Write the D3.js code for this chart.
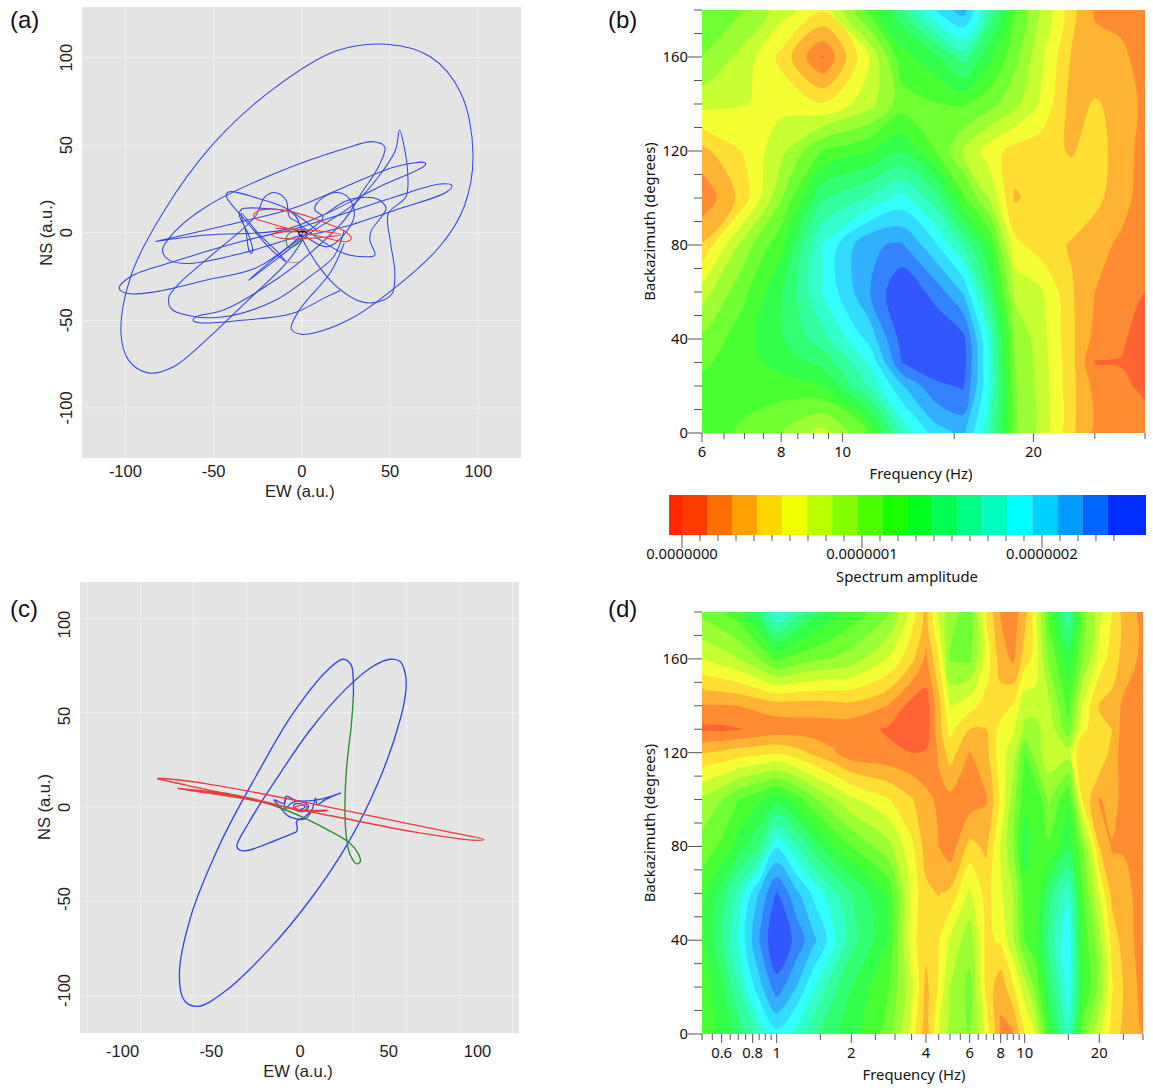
<!DOCTYPE html>
<html>
<head>
<meta charset="utf-8">
<title>Hodographs and backazimuth spectra</title>
<script src="https://cdn.jsdelivr.net/npm/d3@7"></script>
<style>
  html, body { margin: 0; background: #fff; }
  svg { display: block; }
  .hodo text { font-family: "Liberation Sans", Arial, sans-serif; font-size: 16.5px; fill: #222; }
  .spec text { font-family: "Noto Sans", sans-serif; font-size: 14.8px; fill: #111; }
  .tag { font-family: "Liberation Sans", Arial, sans-serif; font-size: 24px; fill: #111; }
</style>
</head>
<body>
<div id="container"></div>
<script>
// panel (a) particle motion, [EW, NS]
const aBlue = [
  [[24,-6],[16,-23],[-1.4,-44],[-6,-55],[-0.4,-58],[8,-57],[26,-50],[43,-39],[78,-8],[92,15],[97,45],[90,80],[72.6,100.6],[48,107.6],[20,104],[-15,83],[-50,51],[-79,11],[-97,-25],[-102.5,-57.5],[-98,-73],[-87,-80],[-73,-76.6],[-54,-61],[-30.5,-38.5],[-9,-17.5],[0.6,-4]],
  [[1,-2],[-10,-10],[-30.5,-27.4],[-15,-15.6],[4.5,-0.4],[30,16.8],[43.4,32],[53,47],[55.4,58.7],[58,49],[60,34],[59,20.6],[49,11],[50,-4],[52.7,-23],[51,-35],[43.4,-39.4],[33.7,-39.4],[20,-31],[8.4,-17.5],[-1.4,-0.4]],
  [[0.6,-1],[-34.4,-11.8],[-63.6,-17.5],[-75.3,-15.6],[-79,-10],[-73,-0.4],[-54,15],[-15,34],[24,48],[40.5,52],[47,49],[43.4,37.7],[33.7,22.5],[24,7.2],[4.5,-11.8],[-15,-27],[-44,-44],[-60,-48],[-61.7,-50],[-58,-51.4],[-34.4,-50],[-5,-46],[14,-36.6],[22,-33]],
  [[24,1.5],[18,-13.7],[4.5,-25],[-15,-38.5],[-44,-48],[-65.6,-47],[-74.3,-43],[-75.3,-36.6],[-69.5,-29],[-50,-11.8],[-26.7,9],[-20.8,20.6],[-15,22.9],[-9,18.7],[-7,9],[-1.4,5.3],[1,0]],
  [[-83,-5],[-34.4,6.3],[-5,14],[24,26],[53,37.7],[69.7,40],[70,38.7],[43.4,26],[14,11],[-11,1.5],[-54,-1.3],[-83,-5]],
  [[0.6,-0.4],[-9,-9],[-26.7,-20.4],[-54,-27],[-83,-33.7],[-98.6,-34.7],[-103.5,-31.8],[-97,-25],[-73,-16.6],[-34.4,-5],[-3.3,2.5],[24,11],[53,20.6],[78.4,27.8],[85,27],[82.3,23.4],[53,13],[24,3.4],[4.5,-1.3]],
  [[-9,-16.6],[-17,-10],[-30.5,5.3],[-43,21.5],[-41,23.4],[-24.7,19.6],[-9,14],[8.4,1.5]],
  [[0,1],[-5,11],[-22.8,14],[-34.4,13.3],[-35.4,10],[-30.5,-0.4],[-28,-9],[-28.6,-11.8],[-30,-10],[-31.5,-0.4],[-34.4,11],[-24.7,-0.4],[-13,-11.8],[-9,-16.6]],
  [[2,0],[12,9],[7.4,13],[8.4,16.8],[18,22.9],[25.9,20.6],[29.8,11],[25.9,1.5],[14.2,-8],[2,-2]],
  [[14,11],[24,17.7],[31.7,20],[43.4,19],[47.7,14],[45,9],[39.5,1.5],[38.5,-4],[41.4,-12.8],[35.6,-13.7],[24,-11.8],[10.3,-4],[0.6,3.4]]
];
const aGrey = [[-9,-16.6],[-4,-17],[-1.4,-16.6]];
const aRed = [[-27.6,10],[-25,12.5],[-18,13.5],[-8,12.5],[4.5,9],[15,5],[24,1],[28,-3],[26,-5],[20,-4.4],[10,-2],[0,0.5],[-10,3],[-20,6],[-26,8],[-27.6,10]];
const aRed2 = [[0.6,0.6],[-15,0],[-17,-1.3],[-11,-3.2],[4.5,-3.2],[22,-1],[4.5,1.5],[-15,2.5]];
const aGreen = [[-3.3,1.5],[-8.2,-1.3],[-8.8,-5],[-7.6,-8.4],[-3.3,-7],[0.6,-3.2]];
const aBlack = [[-3,1],[3,0],[0,-2],[-2,0],[2,1],[0,0]];

// panel (c) particle motion, [EW, NS]
const cBlue = [[-2,-14],[-13.6,-18.7],[-29,-24.3],[-34,-24.3],[-35.6,-22],[-29,-9],[-13.6,15.3],[5.8,43.4],[25.3,65.8],[40.9,78.9],[50.6,83],[56.4,81.7],[59.3,75],[59.7,65.8],[56.4,49],[44.7,15.3],[27.2,-20],[5.8,-52],[-17.5,-80],[-42.8,-104],[-57.4,-112],[-65,-109],[-68,-95],[-62,-63],[-44.7,-20],[-25,17],[-3.9,52.7],[15.6,77],[24.3,83],[28.8,79.8],[30,71.4],[30,61]];
const cBlueSmall = [[23,7.9],[17.5,6],[9.7,4],[-2,3.5],[-7.8,6],[-9,2],[-14.6,4],[-11.7,0.4],[-6.8,-5],[-2,-6.7],[2.9,-6.7],[6.8,-1.5],[8.8,5],[9.7,1.3],[14,4],[23,7.9]];
const cBlueTail = [[6.8,-1.5],[2,-6],[-2,-8],[-1.5,-12],[-2,-14]];
const cBlueSpiral = [[-7.8,6],[-8.8,-1.5],[-4.9,2.2],[0,3.2],[4.9,0.4],[1.9,-2.4],[-2.9,-1.5],[-3.5,1.2],[0,1.9],[2.8,0],[0,-1.5]];
const cGreen = [[30,61],[29,47],[26.3,22.8],[25.3,-3.4],[26.3,-18.3],[28.2,-26.7],[32,-32],[34,-30.5],[32,-24.9],[26.3,-19],[13.6,-11.8],[2,-6],[-13.6,0.4],[-29,5],[-42.8,7.9]];
const cRed = [[-80.4,16],[-77,16],[-52.5,13],[-3.9,4],[44.7,-6],[83.6,-14],[103.7,-18.3],[97.3,-18.6],[64,-14],[25.3,-6.5],[-13.6,1],[-52.5,9.7],[-77.8,15.3],[-80.4,16]];
const cRed2 = [[-42.8,7.9],[-68.9,10.3],[-52.5,7.9],[-23.3,3.2],[5.8,-2.4],[15.6,-1.9],[-3,-1.5],[-12,1],[-30,5.2],[-68.9,10.6]];
const cRedCore = [[-3,0],[3,1],[4,-2],[-1,-2],[-3,0]];

const hodoTicks = [-100, -50, 0, 50, 100];
const cGridX = [-120, -90, -60, -30, 0, 30, 60, 90, 120];
const cGridY = [-106, -53, 0, 53, 106];

// spectrum grids, amplitude given in contour steps (one step = bandStep)
const bFreq = [6, 7, 8, 9.3, 11, 12.4, 14, 15.5, 17, 18.7, 20.5, 23, 25, 27.5, 30];
const bAz = [0, 20, 30, 40, 60, 80, 100, 120, 140, 160, 180];
const bAmp = [
  [8.4,7.8,7,5.6,8,12.2,14.5,15.3,12.1,7.1,5.7,3.2,1.8,1.6,1.4],
  [8.3,8.4,8.5,8.95,12.1,14.9,16.8,17.1,13.1,7.1,5.7,3.3,1.7,1.2,0.8],
  [7.8,8.6,9.45,10.3,13,17,17.6,17.5,13,7,5.6,3.3,0.95,0.95,0.3],
  [7.2,8.6,9.9,11.6,14.3,17.4,18,17.3,12.9,6.8,5.5,3.2,1.7,1.15,0.5],
  [5.5,7.8,9.9,13.05,15.9,18,16.6,14.9,10.8,5.8,5.2,3.1,2,1.5,1],
  [3.1,6.5,8.7,13.05,15.9,16.1,14.2,11.8,9.1,4.3,3.5,2.9,2.4,1.8,1.5],
  [1.2,3.5,6.9,10.9,12.1,13.3,11.4,8.2,6,2.85,3.5,3.7,3.3,2.4,1.5],
  [2.7,4.1,5.7,8.1,8.9,9.9,8,6,4.5,3.6,3.4,2.9,3.5,2.5,1.6],
  [5.3,5.05,4.7,4.05,5.6,7.5,7.95,8.1,7.4,6.3,4.9,2.6,3.1,2.7,1.7],
  [7,5.6,3.7,0.9,5,8.6,9.7,11.5,9.3,7.3,5.3,2.9,2.3,2.2,1.6],
  [7.8,7,5.5,4.1,8.3,10.7,14,15.5,11.7,8,6,3.3,1.9,1.7,1.5]
];
const dFreq = [0.5, 0.6, 0.7, 0.85, 1, 1.2, 1.4, 1.7, 2, 2.8, 3.5, 4, 4.5, 5, 6, 7, 8, 9, 10, 11, 12.5, 15, 17, 20, 22.5, 25, 30];
const dAz = [0, 20, 40, 60, 80, 100, 120, 130, 140, 160, 180];
const dAmp = [
  [8,9.3,10.3,12.3,13.7,12.6,11.3,10.2,9.4,7.6,4.5,2.3,4.9,6.2,7.1,4.5,1.8,1.9,4,4.9,8.7,12.6,7.5,5.3,3.5,2.8,2],
  [8.3,9.8,12,14.6,16.6,15,13.2,11.2,10,8.1,5.3,2.7,4.1,6,7.3,3.7,2.3,3.9,5.5,7.2,10.2,13.6,9.2,6.7,4.1,3,1.6],
  [8.7,11,13.1,16,18,16.7,15.3,13.3,11.4,9,4.4,3.3,3.9,5.2,6.6,3.7,4.2,5.8,8.1,8.6,11.2,13.9,8.8,6.4,3.6,2.6,1.5],
  [8.6,10.4,12.3,15.1,17.1,15.3,13.8,12.2,11,8.8,4.7,3.2,2.95,3.2,5.2,3.6,4.8,6,8.5,8,10.6,12.7,8.3,4.9,2.7,2.4,1.5],
  [7.4,8.2,9.4,11,13.9,12.1,10.6,9,8,6.4,4.2,2.6,2,1.4,3.3,2.8,5.1,7,9.6,8.5,8.2,9.7,7.4,3,1.9,1.9,1.5],
  [6.2,7,8,8.8,9.6,8.5,7.3,6.1,5.2,4.1,3.1,2.3,1.8,1.7,1.4,1.9,4.2,6.6,8.7,9,6.8,8.9,4,1.9,2.5,1.6,2],
  [2.9,3.2,3.5,3.7,3.9,3.4,2.8,2.1,1.4,1.2,1,1.1,2.1,3.5,1.95,2.7,4.6,5.5,8,6.5,5.4,5.5,3,3.9,2.6,1.5,1.7],
  [0.7,0.8,0.95,1.2,1.4,1.5,1.5,1.5,1.4,0.9,0.4,0.4,2.6,4.3,3,3,4.3,4.9,6.2,6.5,5.2,7.7,4.3,3.3,3,1.5,1.7],
  [1.8,1.9,2,2.3,2.5,2.5,2.5,2.6,2.7,2,0.6,0.5,2.6,5.05,4.4,3.6,3.5,4.1,5.7,5.5,5.7,8.3,5,2.9,2.7,1.8,1.7],
  [5,5.5,6,7,8.2,7.6,7.2,6.9,6.5,5,3.3,1.8,3.9,7.1,7.2,4.6,2.5,1.8,3.5,4.3,7.1,9.5,7.2,4.6,3.5,2.7,1.7],
  [7.3,7.9,8.5,10.5,13.2,11.5,10.5,9.4,8.6,7.2,4.5,2.6,5.4,6.5,7.6,3.8,1.9,1.5,2.6,4.4,7.9,11.8,7.5,5.3,4,2.6,1.7]
];

const bandColors = ["#ff2800","#ff3c00","#ff6e00","#ffa000","#ffd700","#f0ff00","#b9ff00","#82ff00","#4bff00","#19ff00","#00ff1e","#00ff50","#00ff87","#00ffbe","#00ffff","#00d2ff","#009bff","#0064ff","#002dff"];
const bandStep = 0.139e-7;
const bFreqTicks = [6, 6.5, 7, 7.5, 8, 8.5, 9, 9.5, 10, 15, 20, 25, 30];
const bFreqLabels = [6, 8, 10, 20];
const dFreqTicks = [0.5,0.55,0.6,0.65,0.7,0.75,0.8,0.85,0.9,0.95,1,1.5,2,2.5,3,3.5,4,4.5,5,5.5,6,6.5,7,7.5,8,8.5,9,9.5,10,15,20,25,30];
const dFreqLabels = [0.6, 0.8, 1, 2, 4, 6, 8, 10, 20];
const azTicks = [0,10,20,30,40,50,60,70,80,90,100,110,120,130,140,150,160,170,180];
const azLabels = [0, 40, 80, 120, 160];
const ampTicks = [0,0.1,0.2,0.3,0.4,0.5,0.6,0.7,0.8,0.9,1,1.1,1.2,1.3,1.4,1.5,1.6,1.7,1.8,1.9,2,2.1,2.2,2.3,2.4].map(d => d * 1e-7);
const ampLabels = [0, 1e-7, 2e-7];

const svg = d3.select("#container").append("svg").attr("width", 1153).attr("height", 1088);

function drawHodograph(box, traces, gridX, gridY) {
  const g = svg.append("g").attr("class", "hodo");
  const x = d3.scaleLinear().domain(box.xDomain).range([box.left, box.right]);
  const y = d3.scaleLinear().domain(box.yDomain).range([box.bottom, box.top]);
  // panel (c) has its y labels spaced differently from its grid
  const yLabel = box.yLabelRange ? d3.scaleLinear().domain([-50, 50]).range(box.yLabelRange) : y;

  g.append("rect")
    .attr("x", box.left).attr("y", box.top)
    .attr("width", box.right - box.left).attr("height", box.bottom - box.top)
    .attr("fill", "#e4e4e4");

  g.selectAll(".gx").data(gridX).join("line")
    .attr("x1", d => x(d)).attr("x2", d => x(d))
    .attr("y1", box.top).attr("y2", box.bottom)
    .attr("stroke", "#f1f1f1").attr("stroke-width", 1);
  g.selectAll(".gy").data(gridY).join("line")
    .attr("y1", d => y(d)).attr("y2", d => y(d))
    .attr("x1", box.left).attr("x2", box.right)
    .attr("stroke", "#f1f1f1").attr("stroke-width", 1);

  const line = d3.line()
    .x(d => x(d[0]))
    .y(d => y(d[1]))
    .curve(d3.curveCatmullRom.alpha(0.5));

  traces.forEach(t => {
    g.append("path")
      .attr("d", line(t.points))
      .attr("fill", "none")
      .attr("stroke", t.color)
      .attr("stroke-width", box.lineWidth);
  });

  g.selectAll(".tx").data(hodoTicks).join("text")
    .attr("x", d => x(d)).attr("y", box.bottom + box.tickDy)
    .attr("text-anchor", "middle")
    .text(d => d);
  g.selectAll(".ty").data(hodoTicks).join("text")
    .attr("transform", d => `translate(${box.left - 10},${yLabel(d)}) rotate(-90)`)
    .attr("text-anchor", "middle")
    .text(d => d);
  g.append("text")
    .attr("x", x(0) - 2).attr("y", box.bottom + box.tickDy + 20)
    .attr("text-anchor", "middle")
    .text("EW (a.u.)");
  g.append("text")
    .attr("transform", `translate(${box.left - 30},${y(0)}) rotate(-90)`)
    .attr("text-anchor", "middle")
    .text("NS (a.u.)");
}

function drawSpectrum(id, box, freq, az, amp, freqTicks, freqLabels) {
  const g = svg.append("g").attr("class", "spec");
  const x = d3.scaleLog().domain(box.xDomain).range([box.left, box.right]);
  const y = d3.scaleLinear().domain([0, 180]).range([box.bottom, box.top]);

  // contour coordinates are grid indices, grid is not uniform so map piecewise
  const xIdx = d3.scaleLinear().domain(d3.range(freq.length)).range(freq.map(d => x(d)));
  const yIdx = d3.scaleLinear().domain(d3.range(az.length)).range(az.map(d => y(d)));
  const ringLine = d3.line()
    .x(d => xIdx(d[0] - 0.5))
    .y(d => yIdx(d[1] - 0.5))
    .curve(d3.curveCatmullRomClosed.alpha(0.5));

  const lighten = c => d3.interpolateRgb("#fff", c)(0.8);
  const contours = d3.contours()
    .size([freq.length, az.length])
    .thresholds(d3.range(0, bandColors.length - 1))(amp.flat());

  g.append("clipPath").attr("id", id)
    .append("rect")
    .attr("x", box.left).attr("y", box.top)
    .attr("width", box.right - box.left).attr("height", box.bottom - box.top);

  const plot = g.append("g").attr("clip-path", `url(#${id})`);
  plot.append("rect")
    .attr("x", box.left).attr("y", box.top)
    .attr("width", box.right - box.left).attr("height", box.bottom - box.top)
    .attr("fill", lighten(bandColors[1]));
  plot.selectAll(".band").data(contours).join("path")
    .attr("d", c => c.coordinates.flat().map(ring => ringLine(ring.slice(0, -1))).join(""))
    .attr("fill-rule", "evenodd")
    .attr("fill", d => lighten(bandColors[d.value + 1]));

  g.selectAll(".xt").data(freqTicks).join("line")
    .attr("x1", d => x(d)).attr("x2", d => x(d))
    .attr("y1", box.bottom)
    .attr("y2", d => box.bottom + (freqLabels.includes(d) ? 9 : 6))
    .attr("stroke", "#555");
  g.selectAll(".xl").data(freqLabels).join("text")
    .attr("x", d => x(d)).attr("y", box.bottom + 24)
    .attr("text-anchor", "middle")
    .text(d => d);
  g.selectAll(".yt").data(azTicks).join("line")
    .attr("y1", d => y(d)).attr("y2", d => y(d))
    .attr("x1", box.left)
    .attr("x2", d => box.left - (azLabels.includes(d) ? 14 : 8))
    .attr("stroke", "#555");
  g.selectAll(".yl").data(azLabels).join("text")
    .attr("x", box.left - 14).attr("y", d => y(d) + 5)
    .attr("text-anchor", "end")
    .text(d => d);
  g.append("text")
    .attr("x", box.titleX).attr("y", box.bottom + 46)
    .attr("text-anchor", "middle")
    .text("Frequency (Hz)");
  g.append("text")
    .attr("transform", `translate(${box.left - 47},${y(90)}) rotate(-90)`)
    .attr("text-anchor", "middle")
    .text("Backazimuth (degrees)");
}

function drawColorbar() {
  const g = svg.append("g").attr("class", "spec");
  const top = 495, bottom = 535;
  const x = d3.scaleLinear().domain([-0.0722e-7, 2.578e-7]).range([669, 1146]);

  g.selectAll(".cb").data(bandColors).join("rect")
    .attr("x", (d, i) => i === 0 ? x.range()[0] : x((i - 1) * bandStep))
    .attr("y", top)
    .attr("width", (d, i) => {
      const start = i === 0 ? x.domain()[0] : (i - 1) * bandStep;
      const end = i === bandColors.length - 1 ? x.domain()[1] : i * bandStep;
      return x(end) - x(start);
    })
    .attr("height", bottom - top)
    .attr("fill", d => d);

  g.selectAll(".ct").data(ampTicks).join("line")
    .attr("x1", d => x(d)).attr("x2", d => x(d))
    .attr("y1", bottom)
    .attr("y2", d => bottom + (ampLabels.some(l => Math.abs(l - d) < 1e-10) ? 13 : 6))
    .attr("stroke", "#555");
  g.selectAll(".cl").data(ampLabels).join("text")
    .attr("x", d => x(d)).attr("y", bottom + 24)
    .attr("text-anchor", "middle")
    .text(d => d.toFixed(7));
  g.append("text")
    .attr("x", 907).attr("y", 582)
    .attr("text-anchor", "middle")
    .text("Spectrum amplitude");
}

const blue = "#3148e6", red = "#ee3b3b", green = "#2e8b2e";

drawHodograph(
  {left: 82, right: 521, top: 7, bottom: 458, xDomain: [-124.6, 124.2], yDomain: [-128.6, 128.9], tickDy: 19, lineWidth: 1.05},
  [
    ...aBlue.map(points => ({points, color: blue})),
    {points: aGrey, color: "#999"},
    {points: aGreen, color: green},
    {points: aRed, color: red},
    {points: aRed2, color: red},
    {points: aBlack, color: "#111"}
  ],
  hodoTicks, hodoTicks
);
drawHodograph(
  {left: 80, right: 519, top: 582, bottom: 1033, xDomain: [-124, 123.4], yDomain: [-127, 126.4], tickDy: 24, lineWidth: 1.35, yLabelRange: [899, 716]},
  [
    {points: cBlue, color: blue},
    {points: cBlueSmall, color: blue},
    {points: cBlueTail, color: blue},
    {points: cBlueSpiral, color: blue},
    {points: cGreen, color: green},
    {points: cRed, color: red},
    {points: cRed2, color: red},
    {points: cRedCore, color: red}
  ],
  cGridX, cGridY
);
drawSpectrum("clipB", {left: 702, right: 1145, top: 10, bottom: 433, xDomain: [6, 30], titleX: 921}, bFreq, bAz, bAmp, bFreqTicks, bFreqLabels);
drawSpectrum("clipD", {left: 702, right: 1143, top: 612, bottom: 1034, xDomain: [0.5, 30], titleX: 914}, dFreq, dAz, dAmp, dFreqTicks, dFreqLabels);
drawColorbar();

const tags = [["(a)", 10, 28], ["(b)", 608, 28], ["(c)", 10, 617], ["(d)", 608, 617]];
svg.selectAll(".tag").data(tags).join("text")
  .attr("class", "tag")
  .attr("x", d => d[1]).attr("y", d => d[2])
  .text(d => d[0]);
</script>
</body>
</html>
